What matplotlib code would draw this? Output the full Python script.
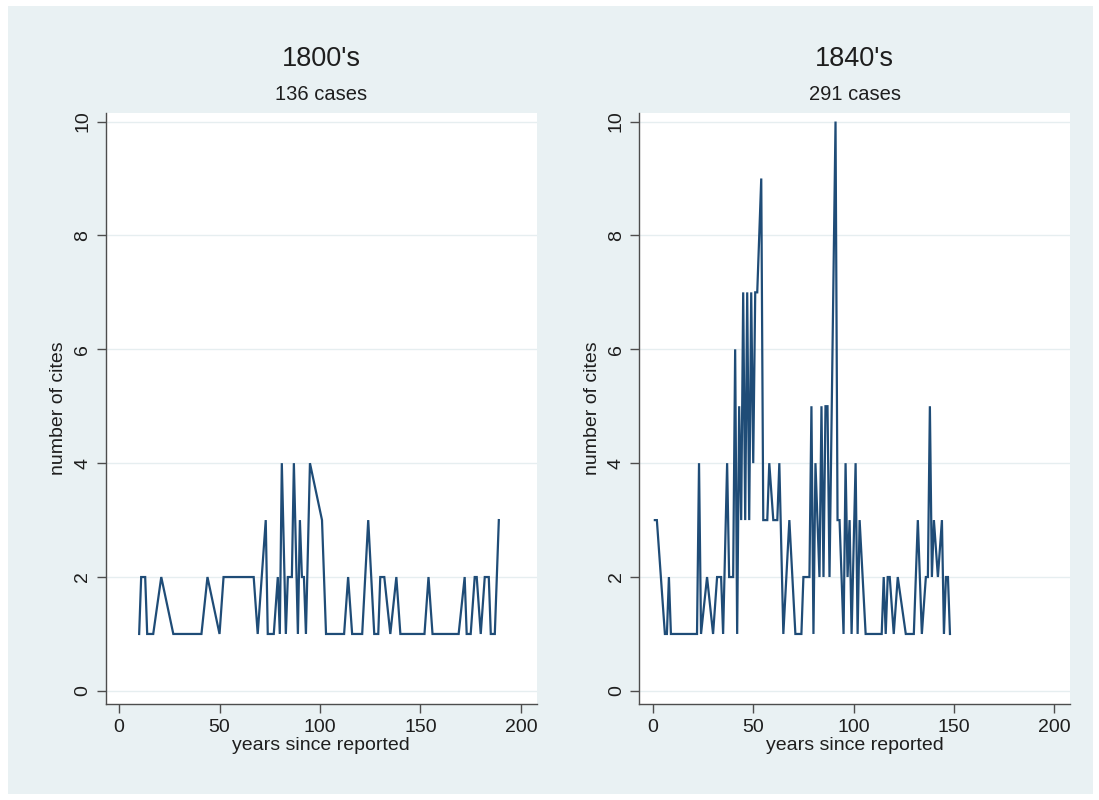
import matplotlib
matplotlib.use("Agg")
import matplotlib.pyplot as plt
from matplotlib.patches import Rectangle

plt.rcParams['font.family'] = ['Liberation Sans', 'DejaVu Sans']

# ---- data (vertices) ----
years_1800 = [10, 11, 13, 14, 17, 21, 27, 41, 44, 50, 52, 67, 69, 73, 74, 77, 79, 80,
              81, 83, 84, 86, 87, 89, 90, 91, 92, 93, 95, 101, 103, 112, 114, 116,
              121, 124, 127, 129, 130, 132, 135, 138, 140, 152, 154, 156, 169, 172,
              173, 175, 177, 178, 180, 182, 184, 185, 187, 189]
cites_1800 = [1, 2, 2, 1, 1, 2, 1, 1, 2, 1, 2, 2, 1, 3, 1, 1, 2, 1,
              4, 1, 2, 2, 4, 1, 3, 2, 2, 1, 4, 3, 1, 1, 2, 1,
              1, 3, 1, 1, 2, 2, 1, 2, 1, 1, 2, 1, 1, 2,
              1, 1, 2, 2, 1, 2, 2, 1, 1, 3]

years_1840 = [1, 2, 6, 7, 8, 9, 22, 23, 24, 27, 30, 32, 34, 35, 37, 38, 40, 41, 42,
              43, 44, 45, 46, 47, 48, 49, 50, 51, 52, 54, 55, 57, 58, 60, 62, 63, 65,
              68, 71, 74, 75, 78, 79, 80, 81, 83, 84, 85, 86, 87, 88, 91, 92, 93, 95,
              96, 97, 98, 99, 101, 102, 103, 106, 114, 115, 116, 117, 118, 120, 122,
              126, 130, 132, 134, 136, 137, 138, 139, 140, 142, 144, 145, 146, 147, 148]
cites_1840 = [3, 3, 1, 1, 2, 1, 1, 4, 1, 2, 1, 2, 2, 1, 4, 2, 2, 6, 1,
              5, 3, 7, 3, 7, 3, 7, 4, 7, 7, 9, 3, 3, 4, 3, 3, 4, 1,
              3, 1, 1, 2, 2, 5, 1, 4, 2, 5, 2, 5, 5, 2, 10, 3, 3, 1,
              4, 2, 3, 1, 4, 1, 3, 1, 1, 2, 1, 2, 2, 1, 2,
              1, 1, 3, 1, 2, 2, 5, 2, 3, 2, 3, 1, 2, 2, 1]

titles = ["1800's", "1840's"]
subtitles = ["136 cases", "291 cases"]
xticks = [0, 50, 100, 150, 200]
yticks = [0, 2, 4, 6, 8, 10]
xlabel = "years since reported"
ylabel = "number of cites"

W, H = 1099, 800
fig = plt.figure(figsize=(W / 100, H / 100), dpi=100)
fig.patch.set_facecolor('white')
bg = '#E9F1F3'
fig.patches.append(Rectangle((8 / W, 6 / H), (W - 14) / W, (H - 12) / H,
                             transform=fig.transFigure, facecolor=bg,
                             edgecolor='none', zorder=-10))

line_color = '#1F4C77'
axis_color = '#4D4D4D'
grid_color = '#E6EEF0'
text_color = '#1E1E1E'

panels = [(105.6, 536.6, years_1800, cites_1800),
          (639.4, 1070.0, years_1840, cites_1840)]
top_px, bot_px = 113.0, 704.0

for i, (x0, x1, xs, ys) in enumerate(panels):
    ax = fig.add_axes([x0 / W, 1 - bot_px / H, (x1 - x0) / W, (bot_px - top_px) / H])
    ax.set_facecolor('white')
    ax.plot(xs, ys, color=line_color, lw=1.6, solid_joinstyle='miter', zorder=3)
    ax.set_xlim(-6.7, 207.8)
    ax.set_ylim(-0.23, 10.15)
    ax.set_xticks(xticks)
    ax.set_yticks(yticks)
    ax.set_yticklabels([str(v) for v in yticks], rotation=90, va='center')
    ax.tick_params(axis='both', colors=axis_color, labelcolor=text_color,
                   labelsize=14, length=6.5, width=1.0, direction='out', pad=4)
    ax.grid(axis='y', color=grid_color, lw=1.0, zorder=0)
    for side in ['top', 'right']:
        ax.spines[side].set_visible(False)
    for side in ['left', 'bottom']:
        ax.spines[side].set_color(axis_color)
        ax.spines[side].set_linewidth(1.0)
    ax.set_xlabel(xlabel, fontsize=14, color=text_color, labelpad=1)
    ax.set_ylabel(ylabel, fontsize=14, color=text_color, labelpad=5)
    cx = (x0 + x1) / 2 / W
    fig.text(cx, 1 - 59 / H, titles[i], ha='center', va='center',
             fontsize=19.5, color=text_color)
    fig.text(cx, 1 - 95 / H, subtitles[i], ha='center', va='center',
             fontsize=14.5, color=text_color)

fig.savefig('out.png', dpi=100, facecolor=fig.get_facecolor())
